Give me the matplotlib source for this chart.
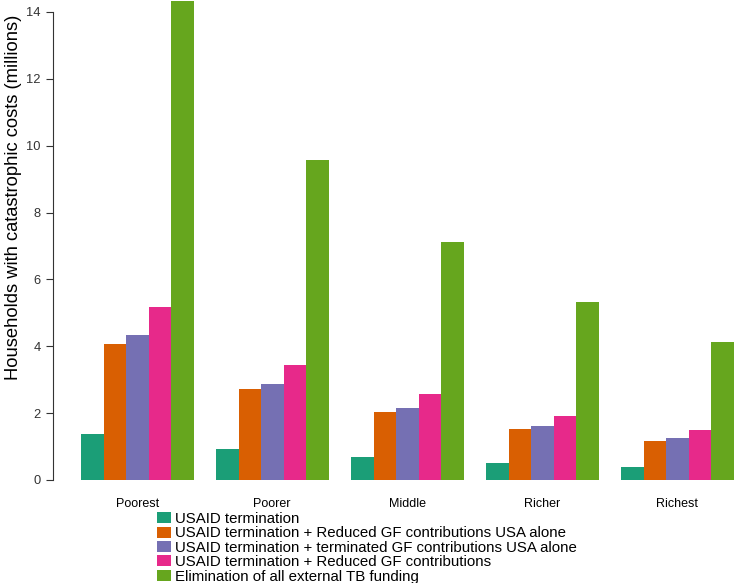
import matplotlib.pyplot as plt
import numpy as np

plt.rcParams['font.family'] = ['Liberation Sans', 'DejaVu Sans']

groups = ['Poorest', 'Poorer', 'Middle', 'Richer', 'Richest']
scenarios = [
    'USAID termination',
    'USAID termination + Reduced GF contributions USA alone',
    'USAID termination + terminated GF contributions USA alone',
    'USAID termination + Reduced GF contributions',
    'Elimination of all external TB funding',
]
usaid = [1.37, 0.92, 0.69, 0.52, 0.40]
usaid_gf_reduced_usa = [4.08, 2.72, 2.02, 1.52, 1.18]
usaid_gf_terminated_usa = [4.33, 2.88, 2.14, 1.62, 1.25]
usaid_gf_reduced = [5.18, 3.44, 2.57, 1.92, 1.49]
all_external = [14.33, 9.56, 7.11, 5.32, 4.12]
colors = ['#1B9E77', '#D95F02', '#7570B3', '#E7298A', '#66A61E']

series = [usaid, usaid_gf_reduced_usa, usaid_gf_terminated_usa, usaid_gf_reduced, all_external]

fig = plt.figure(figsize=(7.35, 5.83), dpi=100)
ax = fig.add_axes([81 / 735, 103 / 583, 652.5 / 735, 480 / 583])

# R-style beside barplot: bar width 1, one bar gap between groups
for j, vals in enumerate(series):
    xs = [1 + 6 * i + j for i in range(len(groups))]
    ax.bar(xs, vals, width=1, align='edge', color=colors[j], label=scenarios[j],
           edgecolor='none')

ax.set_xlim(1, 30)
ax.set_ylim(0, 480 / 33.43)
ax.set_xticks([1 + 6 * i + 2.5 for i in range(len(groups))])
ax.set_xticklabels(groups, fontsize=9)
ax.tick_params(axis='x', length=0, pad=13)
ax.set_yticks(np.arange(0, 15, 2))
ax.tick_params(axis='y', labelsize=9.3, length=5, width=0.8, pad=4, colors='#333333')
for lab in ax.get_yticklabels():
    lab.set_color('black')

for s in ['top', 'right', 'bottom']:
    ax.spines[s].set_visible(False)
ax.spines['left'].set_position(('outward', 20))
ax.spines['left'].set_bounds(0, 14)
ax.spines['left'].set_color('#333333')
ax.spines['left'].set_linewidth(0.8)

fig.text(14 / 735, 1 - 197 / 583, 'Households with catastrophic costs (millions)',
         rotation=90, ha='center', va='center', fontsize=13.2)

fig.legend(loc='upper left', bbox_to_anchor=(157 / 735, 1 - 512 / 583), frameon=False,
           fontsize=10.8, handlelength=0.95, handleheight=0.75, labelspacing=0.025,
           handletextpad=0.27, borderpad=0, borderaxespad=0)

fig.savefig('out.png', dpi=100)
